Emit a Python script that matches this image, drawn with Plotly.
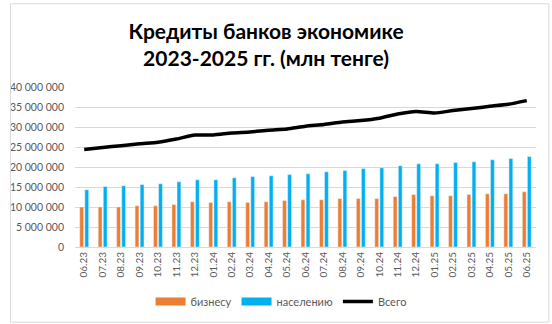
import plotly.graph_objects as go

months = ["06.23","07.23","08.23","09.23","10.23","11.23","12.23","01.24","02.24","03.24","04.24","05.24","06.24",
          "07.24","08.24","09.24","10.24","11.24","12.24","01.25","02.25","03.25","04.25","05.25","06.25"]
business = [10.0,10.0,10.0,10.3,10.3,10.6,11.3,11.1,11.3,11.1,11.3,11.6,11.8,
            11.8,12.1,12.1,12.1,12.6,13.1,12.8,12.8,13.1,13.3,13.3,13.8]
population = [14.3,15.1,15.3,15.6,15.8,16.3,16.8,16.8,17.3,17.6,17.8,18.1,18.3,
              18.8,19.1,19.6,19.8,20.3,20.8,20.8,21.1,21.3,21.8,22.1,22.6]
total = [24.4,24.9,25.3,25.8,26.2,27.0,28.0,28.0,28.5,28.75,29.2,29.5,30.2,
         30.6,31.25,31.6,32.2,33.25,33.9,33.5,34.1,34.6,35.2,35.7,36.6]

ORANGE = "#ED7D31"
BLUE = "#00B0F0"
M = 1_000_000
fig = go.Figure()
fig.add_trace(go.Bar(x=months, y=[v*M for v in business], name="бизнесу", marker_color=ORANGE, showlegend=False))
fig.add_trace(go.Bar(x=months, y=[v*M for v in population], name="населению", marker_color=BLUE, showlegend=False))
fig.add_trace(go.Scatter(x=months, y=[v*M for v in total], name="Всего", mode="lines", showlegend=False,
                         line=dict(color="black", width=3.5, shape="spline", smoothing=0.6)))
# legend entries (wide rectangle swatches like the original)
fig.add_trace(go.Scatter(x=[None], y=[None], name="бизнесу", mode="lines", line=dict(color=ORANGE, width=8)))
fig.add_trace(go.Scatter(x=[None], y=[None], name="населению", mode="lines", line=dict(color=BLUE, width=8)))
fig.add_trace(go.Scatter(x=[None], y=[None], name="Всего", mode="lines", line=dict(color="black", width=3.5)))

fig.update_layout(
    width=552, height=324,
    margin=dict(l=75, r=16, t=87, b=77, autoexpand=False),
    paper_bgcolor="white", plot_bgcolor="white",
    font=dict(family="Lato, Liberation Sans, sans-serif", color="#595959", size=10),
    separators=", ",
    title=dict(text="<b>Кредиты банков экономике<br>2023-2025 гг. (млн тенге)</b>",
               x=0.482, xanchor="center", y=0.88, yanchor="middle",
               font=dict(size=21, color="black", family="Lato, Liberation Sans, sans-serif")),
    barmode="group", bargap=0.45, bargroupgap=0.25,
    showlegend=True,
    legend=dict(orientation="h", x=0.447, xanchor="center", y=-0.34, yanchor="middle",
                font=dict(size=11, color="#595959"), traceorder="normal",
                bgcolor="rgba(0,0,0,0)"),
    xaxis=dict(tickangle=-90, showgrid=False, showline=True, linecolor="#d9d9d9",
               tickfont=dict(size=10, color="#595959"), ticks="", automargin=False),
    yaxis=dict(range=[0, 40*M], dtick=5*M, tickformat=",d", showgrid=True, gridcolor="#d9d9d9",
               gridwidth=1, zeroline=False, ticks="", ticklabelstandoff=10, automargin=False,
               tickfont=dict(size=10.5, color="#595959")),
    shapes=[dict(type="rect", xref="paper", yref="paper", x0=-0.14, x1=1.028, y0=-0.47, y1=1.52,
                 line=dict(color="#d9d9d9", width=1))],
)
fig.write_html("out.html")
